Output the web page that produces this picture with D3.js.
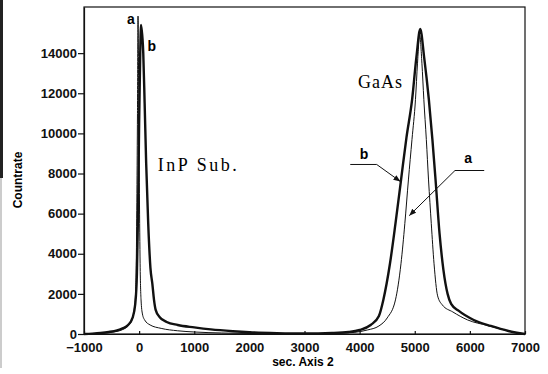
<!DOCTYPE html>
<html>
<head>
<meta charset="utf-8">
<script src="https://cdn.jsdelivr.net/npm/d3@7"></script>
<style>
  body { margin: 0; background: #fff; }
  svg { display: block; }
  .tick text { font-family: "Liberation Sans", Arial, sans-serif; font-weight: bold; font-size: 13px; fill: #111; }
  .axis path, .axis line { stroke: #111; stroke-width: 1.2; }
</style>
</head>
<body>
<div id="chart"></div>
<script>
// curve a (thin) : [sec. axis 2, countrate]
const seriesA = [
  [-1000, 0], [-850, 10], [-700, 30], [-550, 70], [-400, 130], [-300, 220], [-200, 400],
  [-130, 700], [-90, 1200], [-65, 2000], [-50, 4000], [-40, 7000], [-30, 11000], [-20, 15850],
  [-8, 12000], [5, 7000], [18, 3500], [35, 1700], [60, 1000], [100, 700], [200, 450],
  [400, 280], [700, 160], [1000, 100], [1500, 50], [2000, 25], [2500, 12], [3000, 10],
  [3500, 30], [3900, 80], [4140, 200], [4350, 400], [4500, 800], [4650, 1700], [4750, 3500],
  [4820, 5500], [4885, 7680], [4950, 9700], [5013, 11680], [5050, 13500], [5090, 14900],
  [5130, 13500], [5165, 11680], [5210, 9700], [5250, 7680], [5300, 5500], [5350, 3500],
  [5415, 1900], [5500, 1450], [5690, 1100], [5960, 700], [6325, 420], [6700, 150], [7000, 0]
];

// curve b (thick)
const seriesB = [
  [-1000, 0], [-850, 20], [-700, 50], [-550, 100], [-400, 180], [-300, 280], [-200, 450],
  [-120, 800], [-70, 1500], [-40, 3000], [-20, 6000], [0, 10500], [20, 14000], [35, 15400],
  [75, 14000], [100, 11500], [128, 8500], [165, 5500], [205, 3300], [240, 2500], [270, 1700],
  [300, 1200], [370, 850], [500, 600], [700, 450], [1000, 330], [1300, 230], [1700, 140],
  [2000, 90], [2500, 45], [3000, 25], [3500, 50], [3800, 100], [4000, 200], [4200, 450],
  [4350, 900], [4430, 1700], [4550, 3500], [4650, 5500], [4752, 7700], [4850, 9800],
  [4952, 11680], [5030, 13800], [5100, 15200], [5170, 13800], [5256, 11680], [5320, 9700],
  [5377, 7700], [5450, 5000], [5520, 3200], [5596, 2000], [5660, 1500], [5800, 1150],
  [6070, 700], [6380, 400], [6700, 150], [7000, 0]
];

const xTicks = [-1000, 0, 1000, 2000, 3000, 4000, 5000, 6000, 7000];
const yTicks = [0, 2000, 4000, 6000, 8000, 10000, 12000, 14000];

const width = 548, height = 374;
const margin = {top: 7, right: 23, bottom: 40, left: 84};

const svg = d3.select("#chart").append("svg")
  .attr("width", width)
  .attr("height", height);

// scan edge on the left
svg.append("rect").attr("x", 0).attr("y", 0).attr("width", 3).attr("height", 178).attr("fill", "#222");
svg.append("rect").attr("x", 0).attr("y", 178).attr("width", 2).attr("height", 190).attr("fill", "#ccc");

const x = d3.scaleLinear().domain([-1000, 7000]).range([margin.left, width - margin.right]);
const y = d3.scaleLinear().domain([0, 16300]).range([height - margin.bottom, margin.top]);

// frame
svg.append("rect")
  .attr("x", x(-1000)).attr("y", y(16300))
  .attr("width", x(7000) - x(-1000)).attr("height", y(0) - y(16300))
  .attr("fill", "none").attr("stroke", "#111").attr("stroke-width", 1.2);

svg.append("g")
  .attr("class", "axis")
  .attr("transform", "translate(0," + y(0) + ")")
  .call(d3.axisBottom(x).tickValues(xTicks).tickSizeInner(-3).tickSizeOuter(0).tickPadding(6).tickFormat(d3.format("d")))
  .call(g => g.selectAll(".tick text").attr("dy", "0.95em"));

svg.append("g")
  .attr("class", "axis")
  .attr("transform", "translate(" + x(-1000) + ",0)")
  .call(d3.axisLeft(y).tickValues(yTicks).tickSizeInner(6).tickSizeOuter(0).tickPadding(1).tickFormat(d3.format("d")));

svg.selectAll(".domain").attr("stroke", "#111");

const line = d3.line()
  .x(d => x(d[0]))
  .y(d => y(d[1]))
  .curve(d3.curveMonotoneX);

svg.append("path").datum(seriesA)
  .attr("d", line).attr("fill", "none").attr("stroke", "#111").attr("stroke-width", 1);

svg.append("path").datum(seriesB)
  .attr("d", line).attr("fill", "none").attr("stroke", "#111").attr("stroke-width", 2.4);

// axis titles
svg.append("text")
  .attr("transform", "translate(22," + 180 + ") rotate(-90)")
  .attr("text-anchor", "middle")
  .style("font-family", "Liberation Sans, Arial, sans-serif")
  .style("font-weight", "bold").style("font-size", "12px")
  .text("Countrate");

svg.append("text")
  .attr("x", 303).attr("y", 366)
  .attr("text-anchor", "middle")
  .style("font-family", "Liberation Sans, Arial, sans-serif")
  .style("font-weight", "bold").style("font-size", "12px")
  .text("sec. Axis 2");

// annotations
const sans = "Liberation Sans, Arial, sans-serif";
const serif = "Liberation Serif, Times New Roman, serif";

svg.append("text").attr("x", x(-150)).attr("y", y(15450))
  .attr("text-anchor", "middle").style("font-family", sans).style("font-weight", "bold").style("font-size", "14px").text("a");
svg.append("text").attr("x", x(230)).attr("y", y(14100))
  .attr("text-anchor", "middle").style("font-family", sans).style("font-weight", "bold").style("font-size", "14px").text("b");

svg.append("text").attr("x", x(340)).attr("y", y(8150))
  .style("font-family", serif).style("font-size", "18px").style("letter-spacing", "2.5px").text("InP Sub.");
svg.append("text").attr("x", x(3970)).attr("y", y(12250))
  .style("font-family", serif).style("font-size", "18px").style("letter-spacing", "1px").text("GaAs");

svg.append("defs").append("marker")
  .attr("id", "arrow").attr("viewBox", "0 0 10 10")
  .attr("refX", 10).attr("refY", 5)
  .attr("markerWidth", 7).attr("markerHeight", 7)
  .attr("orient", "auto-start-reverse")
  .append("path").attr("d", "M0,1 L10,5 L0,9 z").attr("fill", "#111");

// leader for b
svg.append("text").attr("x", x(4080)).attr("y", y(8730))
  .attr("text-anchor", "middle").style("font-family", sans).style("font-weight", "bold").style("font-size", "14px").text("b");
svg.append("path")
  .attr("d", d3.line()([[x(3830), y(8450)], [x(4310), y(8450)], [x(4740), y(7600)]]))
  .attr("fill", "none").attr("stroke", "#111").attr("stroke-width", 1)
  .attr("marker-end", "url(#arrow)");

// leader for a
svg.append("text").attr("x", x(5970)).attr("y", y(8530))
  .attr("text-anchor", "middle").style("font-family", sans).style("font-weight", "bold").style("font-size", "14px").text("a");
svg.append("path")
  .attr("d", d3.line()([[x(6260), y(8150)], [x(5730), y(8150)], [x(4900), y(5900)]]))
  .attr("fill", "none").attr("stroke", "#111").attr("stroke-width", 1)
  .attr("marker-end", "url(#arrow)");
</script>
</body>
</html>
